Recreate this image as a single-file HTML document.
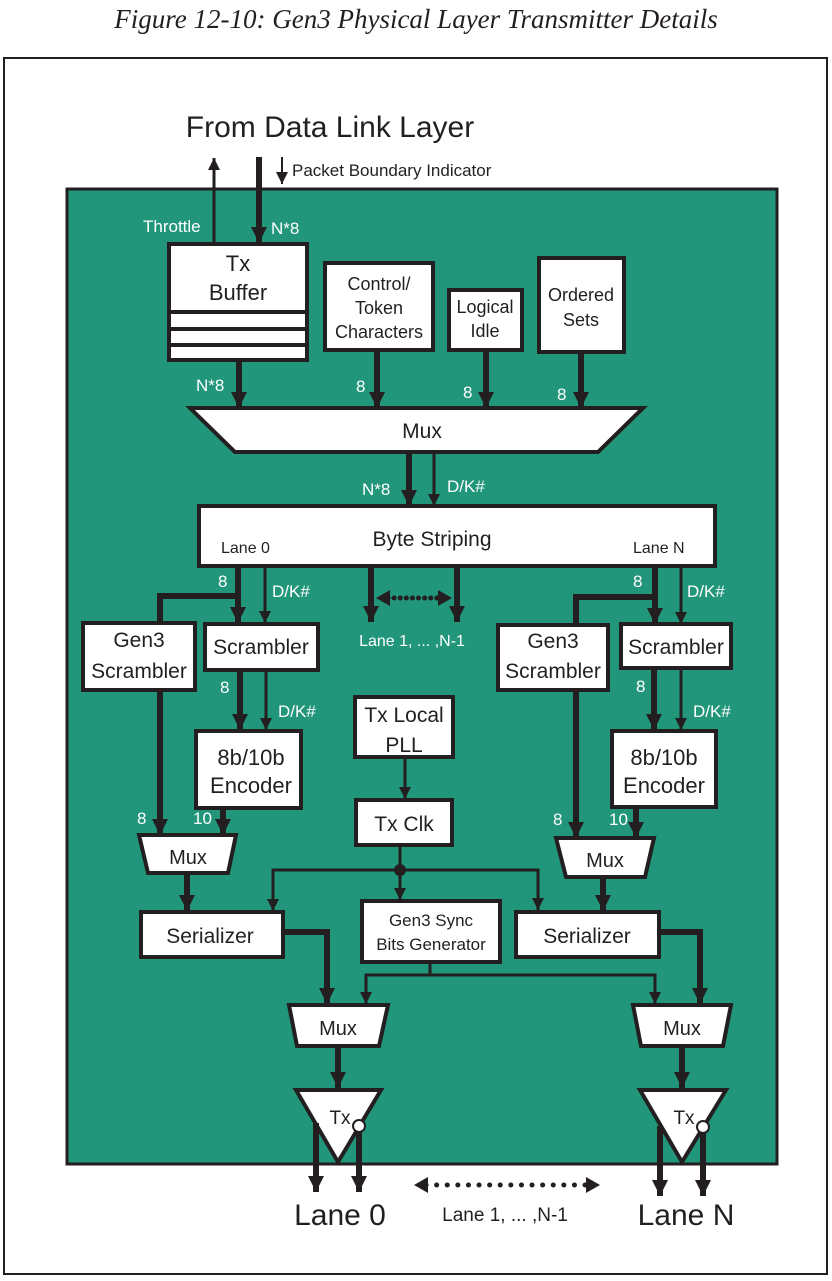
<!DOCTYPE html>
<html><head><meta charset="utf-8"><style>
html,body{margin:0;padding:0;background:#fff}
svg{display:block}
text{font-family:"Liberation Sans",sans-serif}
</style></head><body>
<svg width="832" height="1281" viewBox="0 0 832 1281" xmlns="http://www.w3.org/2000/svg">
<defs>
<marker id="ab" markerUnits="userSpaceOnUse" markerWidth="18" markerHeight="18" refX="16" refY="9" orient="auto"><path d="M0,1 L16,9 L0,17 Z" fill="#231f20"/></marker>
<marker id="as" markerUnits="userSpaceOnUse" markerWidth="14" markerHeight="14" refX="12" refY="7" orient="auto"><path d="M0,1 L12,7 L0,13 Z" fill="#231f20"/></marker>
<marker id="ad" markerUnits="userSpaceOnUse" markerWidth="16" markerHeight="18" refX="2" refY="9" orient="auto-start-reverse"><path d="M0,1 L14,9 L0,17 Z" fill="#231f20"/></marker>
</defs>
<text x="416" y="28" text-anchor="middle" font-family="Liberation Serif" font-style="italic" font-size="27" fill="#231f20" style="font-family:'Liberation Serif',serif">Figure 12-10: Gen3 Physical Layer Transmitter Details</text>
<rect x="4" y="58" width="823" height="1216" fill="none" stroke="#231f20" stroke-width="2"/>
<rect x="67" y="189" width="710" height="975" fill="#21967a" stroke="#231f20" stroke-width="3"/>
<text x="330" y="137" text-anchor="middle" font-size="30" fill="#231f20">From Data Link Layer</text>
<g stroke="#231f20" fill="none">
<line x1="214" y1="243" x2="214" y2="158" stroke-width="3" marker-end="url(#as)"/>
<line x1="259" y1="157" x2="259" y2="243" stroke-width="6" marker-end="url(#ab)"/>
<line x1="282" y1="157" x2="282" y2="184" stroke-width="2" marker-end="url(#as)"/>
<line x1="239" y1="360" x2="239" y2="408" stroke-width="6" marker-end="url(#ab)"/>
<line x1="377" y1="350" x2="377" y2="408" stroke-width="6" marker-end="url(#ab)"/>
<line x1="486" y1="350" x2="486" y2="408" stroke-width="6" marker-end="url(#ab)"/>
<line x1="581" y1="352" x2="581" y2="408" stroke-width="6" marker-end="url(#ab)"/>
<line x1="409" y1="452" x2="409" y2="506" stroke-width="6" marker-end="url(#ab)"/>
<line x1="434" y1="452" x2="434" y2="506" stroke-width="3" marker-end="url(#as)"/>
<!-- lane 0 -->
<line x1="238" y1="566" x2="238" y2="623" stroke-width="6" marker-end="url(#ab)"/>
<line x1="265" y1="566" x2="265" y2="623" stroke-width="3" marker-end="url(#as)"/>
<polyline points="238,596 160,596 160,623" stroke-width="6"/>
<line x1="240" y1="670" x2="240" y2="730" stroke-width="6" marker-end="url(#ab)"/>
<line x1="266" y1="670" x2="266" y2="730" stroke-width="3" marker-end="url(#as)"/>
<line x1="160" y1="690" x2="160" y2="835" stroke-width="6" marker-end="url(#ab)"/>
<line x1="223" y1="808" x2="223" y2="835" stroke-width="6" marker-end="url(#ab)"/>
<line x1="187" y1="873" x2="187" y2="911" stroke-width="6" marker-end="url(#ab)"/>
<polyline points="283,932 327,932 327,1004" stroke-width="6" marker-end="url(#ab)"/>
<!-- middle -->
<line x1="371" y1="566" x2="371" y2="622" stroke-width="6" marker-end="url(#ab)"/>
<line x1="457" y1="566" x2="457" y2="622" stroke-width="6" marker-end="url(#ab)"/>
<line x1="388" y1="598" x2="440" y2="598" stroke-width="5" stroke-dasharray="0.1 6" stroke-linecap="round" marker-start="url(#ad)" marker-end="url(#ad)"/>
<!-- lane N -->
<line x1="655" y1="566" x2="655" y2="624" stroke-width="6" marker-end="url(#ab)"/>
<line x1="681" y1="566" x2="681" y2="624" stroke-width="3" marker-end="url(#as)"/>
<polyline points="655,597 576,597 576,625" stroke-width="6"/>
<line x1="654" y1="668" x2="654" y2="730" stroke-width="6" marker-end="url(#ab)"/>
<line x1="681" y1="668" x2="681" y2="730" stroke-width="3" marker-end="url(#as)"/>
<line x1="576" y1="690" x2="576" y2="838" stroke-width="6" marker-end="url(#ab)"/>
<line x1="636" y1="807" x2="636" y2="838" stroke-width="6" marker-end="url(#ab)"/>
<line x1="603" y1="877" x2="603" y2="911" stroke-width="6" marker-end="url(#ab)"/>
<polyline points="659,932 700,932 700,1004" stroke-width="6" marker-end="url(#ab)"/>
<!-- clock -->
<line x1="405" y1="757" x2="405" y2="799" stroke-width="3" marker-end="url(#as)"/>
<line x1="400" y1="845" x2="400" y2="900" stroke-width="3" marker-end="url(#as)"/>
<polyline points="273,911 273,870 538,870 538,910" stroke-width="3" marker-end="url(#as)"/>
<line x1="273" y1="880" x2="273" y2="911" stroke-width="3" marker-end="url(#as)"/>
<line x1="430" y1="962" x2="430" y2="975" stroke-width="3"/>
<polyline points="366,1004 366,975 655,975 655,1004" stroke-width="3" marker-end="url(#as)"/>
<line x1="366" y1="990" x2="366" y2="1004" stroke-width="3" marker-end="url(#as)"/>
<line x1="338" y1="1046" x2="338" y2="1088" stroke-width="6" marker-end="url(#ab)"/>
<line x1="682" y1="1046" x2="682" y2="1088" stroke-width="6" marker-end="url(#ab)"/>
<line x1="316" y1="1123" x2="316" y2="1192" stroke-width="6" marker-end="url(#ab)"/>
<line x1="359" y1="1132" x2="359" y2="1192" stroke-width="6" marker-end="url(#ab)"/>
<line x1="660" y1="1126" x2="660" y2="1196" stroke-width="6" marker-end="url(#ab)"/>
<line x1="703" y1="1132" x2="703" y2="1196" stroke-width="6" marker-end="url(#ab)"/>
<line x1="426" y1="1185" x2="588" y2="1185" stroke-width="5" stroke-dasharray="0.1 10.5" stroke-linecap="round" marker-start="url(#ad)" marker-end="url(#ad)"/>
</g>
<circle cx="400" cy="870" r="6" fill="#231f20"/>
<g fill="#fff" stroke="#231f20" stroke-width="4">
<rect x="169" y="244" width="138" height="116"/>
<line x1="169" y1="312" x2="307" y2="312"/>
<line x1="169" y1="329" x2="307" y2="329"/>
<line x1="169" y1="345" x2="307" y2="345"/>
<rect x="325" y="263" width="108" height="87"/>
<rect x="449" y="290" width="73" height="60"/>
<rect x="539" y="258" width="85" height="94"/>
<polygon points="190,408 643,408 598,452 235,452"/>
<rect x="199" y="506" width="516" height="60"/>
<rect x="83" y="623" width="112" height="67"/>
<rect x="205" y="624" width="113" height="46"/>
<rect x="196" y="731" width="105" height="77"/>
<polygon points="139,835 236,835 228,873 148,873"/>
<rect x="141" y="912" width="142" height="45"/>
<rect x="498" y="625" width="110" height="65"/>
<rect x="621" y="624" width="110" height="44"/>
<rect x="612" y="731" width="104" height="76"/>
<polygon points="556,838 654,838 645,877 566,877"/>
<rect x="516" y="912" width="143" height="45"/>
<rect x="355" y="697" width="98" height="60"/>
<rect x="356" y="800" width="96" height="45"/>
<rect x="362" y="901" width="138" height="61"/>
<polygon points="289,1005 388,1005 379,1046 297,1046"/>
<polygon points="633,1005 731,1005 723,1046 641,1046"/>
<polygon points="296,1090 381,1090 338,1162"/>
<polygon points="640,1090 726,1090 682,1162"/>
</g>
<g stroke="#231f20" stroke-width="6">
<line x1="316" y1="1123" x2="316" y2="1165"/>
<line x1="660" y1="1126" x2="660" y2="1165"/>
<line x1="359" y1="1132" x2="359" y2="1165"/>
<line x1="703" y1="1132" x2="703" y2="1165"/>
</g>
<circle cx="359" cy="1126" r="6" fill="#fff" stroke="#231f20" stroke-width="2"/>
<circle cx="703" cy="1127" r="6" fill="#fff" stroke="#231f20" stroke-width="2"/>
<g fill="#231f20" text-anchor="middle">
<text x="238" y="271" font-size="22">Tx</text>
<text x="238" y="300" font-size="22">Buffer</text>
<text x="379" y="290" font-size="18">Control/</text>
<text x="379" y="314" font-size="18">Token</text>
<text x="379" y="338" font-size="18">Characters</text>
<text x="485" y="313" font-size="18">Logical</text>
<text x="485" y="337" font-size="18">Idle</text>
<text x="581" y="301" font-size="18">Ordered</text>
<text x="581" y="326" font-size="18">Sets</text>
<text x="422" y="438" font-size="21">Mux</text>
<text x="432" y="546" font-size="21">Byte Striping</text>
<text x="139" y="647" font-size="21">Gen3</text>
<text x="139" y="678" font-size="21">Scrambler</text>
<text x="261" y="654" font-size="21">Scrambler</text>
<text x="251" y="765" font-size="22">8b/10b</text>
<text x="251" y="793" font-size="22">Encoder</text>
<text x="188" y="864" font-size="20">Mux</text>
<text x="210" y="943" font-size="21">Serializer</text>
<text x="553" y="648" font-size="21">Gen3</text>
<text x="553" y="678" font-size="21">Scrambler</text>
<text x="676" y="654" font-size="21">Scrambler</text>
<text x="664" y="765" font-size="22">8b/10b</text>
<text x="664" y="793" font-size="22">Encoder</text>
<text x="605" y="867" font-size="20">Mux</text>
<text x="587" y="943" font-size="21">Serializer</text>
<text x="404" y="722" font-size="21">Tx Local</text>
<text x="404" y="752" font-size="21">PLL</text>
<text x="404" y="831" font-size="21">Tx Clk</text>
<text x="431" y="926" font-size="17">Gen3 Sync</text>
<text x="431" y="950" font-size="17">Bits Generator</text>
<text x="338" y="1035" font-size="20">Mux</text>
<text x="682" y="1035" font-size="20">Mux</text>
<text x="340" y="1124" font-size="19">Tx</text>
<text x="684" y="1124" font-size="19">Tx</text>
<text x="340" y="1225" font-size="30">Lane 0</text>
<text x="686" y="1225" font-size="30">Lane N</text>
<text x="505" y="1221" font-size="19">Lane 1, ... ,N-1</text>
</g>
<text x="292" y="176" font-size="17" fill="#231f20">Packet Boundary Indicator</text>
<text x="221" y="553" font-size="16" fill="#231f20">Lane 0</text>
<text x="633" y="553" font-size="16" fill="#231f20">Lane N</text>
<g fill="#fff" font-size="17">
<text x="143" y="232">Throttle</text>
<text x="271" y="234">N*8</text>
<text x="196" y="391">N*8</text>
<text x="356" y="392">8</text>
<text x="463" y="398">8</text>
<text x="557" y="400">8</text>
<text x="362" y="495">N*8</text>
<text x="447" y="492">D/K#</text>
<text x="218" y="587">8</text>
<text x="272" y="597">D/K#</text>
<text x="412" y="646" text-anchor="middle" font-size="16">Lane 1, ... ,N-1</text>
<text x="220" y="693">8</text>
<text x="278" y="717">D/K#</text>
<text x="137" y="824">8</text>
<text x="193" y="824">10</text>
<text x="633" y="587">8</text>
<text x="687" y="597">D/K#</text>
<text x="636" y="692">8</text>
<text x="693" y="717">D/K#</text>
<text x="553" y="825">8</text>
<text x="609" y="825">10</text>
</g>
</svg>
</body></html>
